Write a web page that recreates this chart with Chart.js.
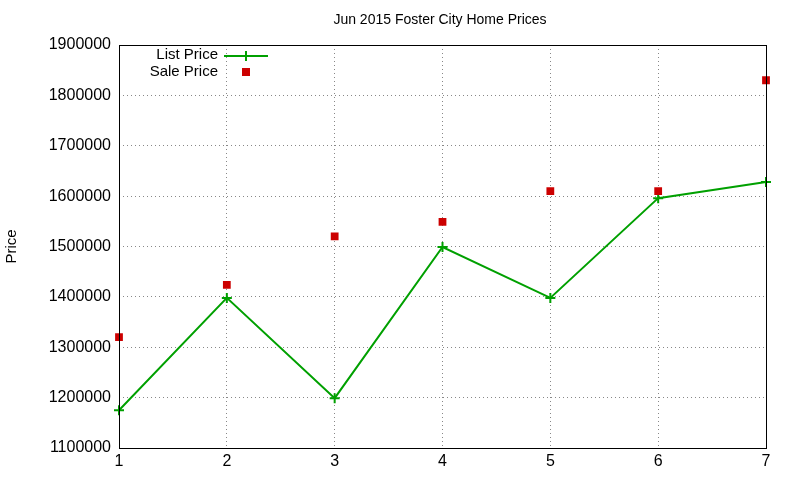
<!DOCTYPE html>
<html><head><meta charset="utf-8">
<script src="https://cdn.jsdelivr.net/npm/chart.js@4"></script>
<style>html,body{margin:0;padding:0;background:#fff}#w{width:800px;height:480px}</style>
</head><body><div id="w"><canvas id="c"></canvas></div>
<script>
const categories = [1, 2, 3, 4, 5, 6, 7];
const listPrice = [1175000, 1398000, 1199000, 1499000, 1398000, 1596000, 1628000];
const salePrice = [1320000, 1424000, 1520000, 1549000, 1610000, 1610000, 1830000];
const chartTitle = 'Jun 2015 Foster City Home Prices';
const yTitle = 'Price';
const FONT = '"Liberation Sans", Arial, sans-serif';

const overlay = {
  id: 'overlay',
  afterDraw(chart) {
    const {ctx, chartArea: a} = chart;
    ctx.save();
    ctx.strokeStyle = '#000'; ctx.lineWidth = 1;
    ctx.strokeRect(a.left + 0.5, a.top + 0.5, a.right - a.left, a.bottom - a.top);
    ctx.fillStyle = '#000';
    ctx.font = '14px ' + FONT;
    ctx.textAlign = 'center'; ctx.textBaseline = 'middle';
    ctx.fillText(chartTitle, 440, 20);
    ctx.save(); ctx.translate(12, (a.top + a.bottom) / 2); ctx.rotate(-Math.PI / 2);
    ctx.font = '15px ' + FONT; ctx.fillText(yTitle, 0, 0); ctx.restore();
    ctx.font = '15px ' + FONT; ctx.textAlign = 'right';
    ctx.fillText('List Price', 218, 55);
    ctx.fillText('Sale Price', 218, 72);
    ctx.strokeStyle = '#00a000'; ctx.lineWidth = 2;
    ctx.beginPath(); ctx.moveTo(224, 56); ctx.lineTo(268, 56);
    ctx.moveTo(246, 51); ctx.lineTo(246, 61); ctx.stroke();
    ctx.fillStyle = '#cc0000'; ctx.fillRect(242, 68, 8, 8);
    ctx.restore();
  }
};

new Chart(document.getElementById('c'), {
  type: 'line',
  data: {
    labels: categories,
    datasets: [
      {label: 'List Price', data: listPrice, borderColor: '#00a000', backgroundColor: '#00a000',
       borderWidth: 2, pointStyle: 'cross', pointRadius: 5, pointBorderWidth: 2, tension: 0, order: 2},
      {label: 'Sale Price', data: salePrice, showLine: false, borderColor: '#cc0000', backgroundColor: '#cc0000',
       pointStyle: 'rect', pointRadius: 5.5, pointBorderWidth: 0, order: 1}
    ]
  },
  plugins: [overlay],
  options: {
    responsive: true, maintainAspectRatio: false, animation: false,
    layout: {padding: {top: 45, right: 34, left: 0, bottom: 0}},
    plugins: {legend: {display: false}, tooltip: {enabled: false}},
    scales: {
      x: {
        type: 'category', offset: false,
        grid: {color: '#888', drawTicks: false},
        border: {display: false, dash: [1, 3]},
        ticks: {color: '#000', font: {family: FONT, size: 16}, padding: 4},
        afterFit(s) { s.height = 32; }
      },
      y: {
        min: 1100000, max: 1900000,
        grid: {color: '#888', drawTicks: false},
        border: {display: false, dash: [1, 3]},
        ticks: {stepSize: 100000, color: '#000', font: {family: FONT, size: 16}, padding: 8,
                callback: v => String(v)},
        afterFit(s) { s.width = 119; }
      }
    }
  }
});
</script></body></html>
